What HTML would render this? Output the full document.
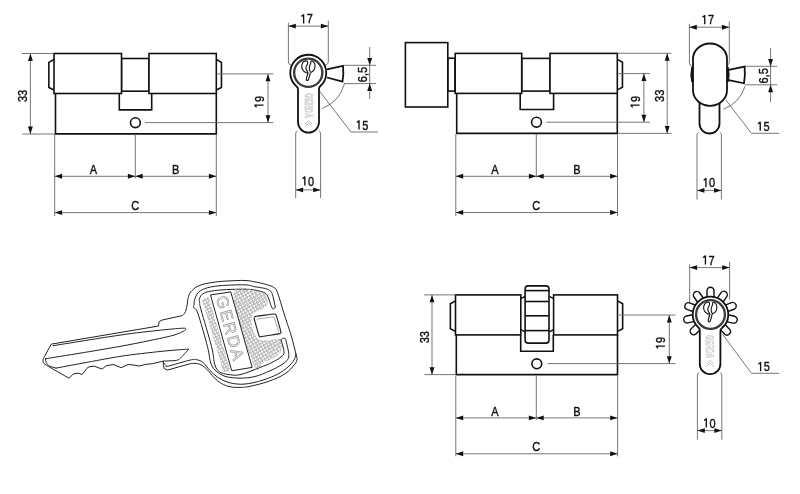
<!DOCTYPE html>
<html><head><meta charset="utf-8"><style>
html,body{margin:0;padding:0;background:#fff;}
svg{display:block;font-family:"Liberation Sans",sans-serif;will-change:transform;}
</style></head><body>
<svg width="800" height="494" viewBox="0 0 800 494">
<defs><pattern id="dots" width="4.4" height="4.4" patternUnits="userSpaceOnUse" patternTransform="rotate(15)"><circle cx="1.1" cy="1.1" r="1.0" fill="#fff" stroke="#7a7a7a" stroke-width="0.75"/><circle cx="3.3" cy="3.3" r="1.0" fill="#fff" stroke="#7a7a7a" stroke-width="0.75"/></pattern></defs>
<rect width="800" height="494" fill="#fff"/>
<path d="M55.50,93.50 L55.50,133.90 L216.30,133.90 L216.30,93.50" stroke="#111" stroke-width="1.6" fill="none" />
<rect x="121.50" y="58.50" width="27.50" height="32.70" rx="0" fill="none" stroke="#111" stroke-width="1.6"/>
<path d="M119.30,93.50 L119.30,109.90 L151.70,109.90 L151.70,93.50" stroke="#111" stroke-width="1.6" fill="none" />
<rect x="54.00" y="53.50" width="67.50" height="40.00" rx="0" fill="#fff" stroke="#111" stroke-width="1.6"/>
<rect x="149.00" y="53.50" width="67.30" height="40.00" rx="0" fill="#fff" stroke="#111" stroke-width="1.6"/>
<path d="M54.00,59.50 L48.85,62.40 L48.85,87.40 L54.00,90.00" stroke="#111" stroke-width="1.6" fill="none" />
<path d="M216.30,59.50 L221.45,62.40 L221.45,87.40 L216.30,90.00" stroke="#111" stroke-width="1.6" fill="none" />
<circle cx="135.40" cy="122.70" r="4.90" stroke="#111" stroke-width="1.6" fill="none"/>
<line x1="22.00" y1="53.50" x2="54.00" y2="53.50" stroke="#666" stroke-width="0.9"/>
<line x1="22.50" y1="134.00" x2="55.00" y2="134.00" stroke="#666" stroke-width="0.9"/>
<line x1="30.40" y1="53.50" x2="30.40" y2="134.00" stroke="#666" stroke-width="0.9"/>
<path d="M30.40,53.50 L32.85,60.90 L27.95,60.90 Z" fill="#111"/>
<path d="M30.40,134.00 L27.95,126.60 L32.85,126.60 Z" fill="#111"/>
<text x="0" y="0" transform="translate(27.20,96.00) rotate(-90) scale(0.88,1)" font-size="12.5" text-anchor="middle" fill="#111" stroke="#111" stroke-width="0.4" stroke-linejoin="round">33</text>
<line x1="217.50" y1="73.90" x2="273.30" y2="73.90" stroke="#666" stroke-width="0.9"/>
<line x1="145.00" y1="122.60" x2="273.30" y2="122.60" stroke="#666" stroke-width="0.9"/>
<line x1="268.00" y1="73.90" x2="268.00" y2="122.60" stroke="#666" stroke-width="0.9"/>
<path d="M268.00,73.90 L270.45,81.30 L265.55,81.30 Z" fill="#111"/>
<path d="M268.00,122.60 L265.55,115.20 L270.45,115.20 Z" fill="#111"/>
<g transform="translate(263.50,101.90) rotate(-90)"><path d="M-5.42,-7.0 L-3.17,-8.7 L-3.17,0" fill="none" stroke="#111" stroke-width="1.35" stroke-linejoin="round"/><text x="0" y="0" transform="translate(0.00,0) scale(0.88,1)" font-size="12.5" fill="#111" stroke="#111" stroke-width="0.4" stroke-linejoin="round">9</text></g>
<line x1="54.70" y1="134.00" x2="54.70" y2="216.00" stroke="#666" stroke-width="0.9"/>
<line x1="216.30" y1="134.00" x2="216.30" y2="216.00" stroke="#666" stroke-width="0.9"/>
<line x1="135.30" y1="134.00" x2="135.30" y2="178.60" stroke="#666" stroke-width="0.9"/>
<line x1="54.70" y1="176.30" x2="135.30" y2="176.30" stroke="#666" stroke-width="0.9"/>
<path d="M54.70,176.30 L62.10,173.85 L62.10,178.75 Z" fill="#111"/>
<path d="M135.30,176.30 L127.90,178.75 L127.90,173.85 Z" fill="#111"/>
<line x1="135.30" y1="176.30" x2="216.30" y2="176.30" stroke="#666" stroke-width="0.9"/>
<path d="M135.30,176.30 L142.70,173.85 L142.70,178.75 Z" fill="#111"/>
<path d="M216.30,176.30 L208.90,178.75 L208.90,173.85 Z" fill="#111"/>
<line x1="54.70" y1="212.60" x2="216.30" y2="212.60" stroke="#666" stroke-width="0.9"/>
<path d="M54.70,212.60 L62.10,210.15 L62.10,215.05 Z" fill="#111"/>
<path d="M216.30,212.60 L208.90,215.05 L208.90,210.15 Z" fill="#111"/>
<text x="0" y="0" transform="translate(93.50,173.70) scale(0.88,1)" font-size="12.5" text-anchor="middle" fill="#111" stroke="#111" stroke-width="0.4" stroke-linejoin="round">A</text>
<text x="0" y="0" transform="translate(175.70,173.70) scale(0.88,1)" font-size="12.5" text-anchor="middle" fill="#111" stroke="#111" stroke-width="0.4" stroke-linejoin="round">B</text>
<text x="0" y="0" transform="translate(135.30,209.50) scale(0.88,1)" font-size="12.5" text-anchor="middle" fill="#111" stroke="#111" stroke-width="0.4" stroke-linejoin="round">C</text>
<rect x="447.80" y="58.20" width="7.20" height="32.90" rx="0" fill="#fff" stroke="#111" stroke-width="1.6"/>
<rect x="405.40" y="42.60" width="42.40" height="64.40" rx="0" fill="#fff" stroke="#111" stroke-width="1.6"/>
<path d="M456.70,93.40 L456.70,133.40 L617.30,133.40 L617.30,93.40" stroke="#111" stroke-width="1.6" fill="none" />
<rect x="521.70" y="58.40" width="28.30" height="32.70" rx="0" fill="none" stroke="#111" stroke-width="1.6"/>
<path d="M520.20,93.40 L520.20,109.50 L553.60,109.50 L553.60,93.40" stroke="#111" stroke-width="1.6" fill="none" />
<rect x="455.20" y="53.40" width="66.50" height="40.00" rx="0" fill="#fff" stroke="#111" stroke-width="1.6"/>
<rect x="550.00" y="53.40" width="67.30" height="40.00" rx="0" fill="#fff" stroke="#111" stroke-width="1.6"/>
<path d="M617.30,59.40 L622.45,62.30 L622.45,87.30 L617.30,89.90" stroke="#111" stroke-width="1.6" fill="none" />
<circle cx="536.50" cy="122.20" r="4.90" stroke="#111" stroke-width="1.6" fill="none"/>
<line x1="617.30" y1="53.30" x2="671.50" y2="53.30" stroke="#666" stroke-width="0.9"/>
<line x1="617.30" y1="133.40" x2="671.50" y2="133.40" stroke="#666" stroke-width="0.9"/>
<line x1="618.50" y1="73.60" x2="650.00" y2="73.60" stroke="#666" stroke-width="0.9"/>
<line x1="546.50" y1="122.20" x2="650.00" y2="122.20" stroke="#666" stroke-width="0.9"/>
<line x1="643.90" y1="73.60" x2="643.90" y2="122.20" stroke="#666" stroke-width="0.9"/>
<path d="M643.90,73.60 L646.35,81.00 L641.45,81.00 Z" fill="#111"/>
<path d="M643.90,122.20 L641.45,114.80 L646.35,114.80 Z" fill="#111"/>
<g transform="translate(639.60,101.90) rotate(-90)"><path d="M-5.42,-7.0 L-3.17,-8.7 L-3.17,0" fill="none" stroke="#111" stroke-width="1.35" stroke-linejoin="round"/><text x="0" y="0" transform="translate(0.00,0) scale(0.88,1)" font-size="12.5" fill="#111" stroke="#111" stroke-width="0.4" stroke-linejoin="round">9</text></g>
<line x1="667.20" y1="53.30" x2="667.20" y2="133.40" stroke="#666" stroke-width="0.9"/>
<path d="M667.20,53.30 L669.65,60.70 L664.75,60.70 Z" fill="#111"/>
<path d="M667.20,133.40 L664.75,126.00 L669.65,126.00 Z" fill="#111"/>
<text x="0" y="0" transform="translate(663.50,95.80) rotate(-90) scale(0.88,1)" font-size="12.5" text-anchor="middle" fill="#111" stroke="#111" stroke-width="0.4" stroke-linejoin="round">33</text>
<line x1="455.80" y1="134.00" x2="455.80" y2="216.00" stroke="#666" stroke-width="0.9"/>
<line x1="617.50" y1="134.00" x2="617.50" y2="216.00" stroke="#666" stroke-width="0.9"/>
<line x1="536.30" y1="134.00" x2="536.30" y2="177.50" stroke="#666" stroke-width="0.9"/>
<line x1="455.80" y1="176.30" x2="536.30" y2="176.30" stroke="#666" stroke-width="0.9"/>
<path d="M455.80,176.30 L463.20,173.85 L463.20,178.75 Z" fill="#111"/>
<path d="M536.30,176.30 L528.90,178.75 L528.90,173.85 Z" fill="#111"/>
<line x1="536.30" y1="176.30" x2="617.50" y2="176.30" stroke="#666" stroke-width="0.9"/>
<path d="M536.30,176.30 L543.70,173.85 L543.70,178.75 Z" fill="#111"/>
<path d="M617.50,176.30 L610.10,178.75 L610.10,173.85 Z" fill="#111"/>
<line x1="455.80" y1="212.50" x2="617.50" y2="212.50" stroke="#666" stroke-width="0.9"/>
<path d="M455.80,212.50 L463.20,210.05 L463.20,214.95 Z" fill="#111"/>
<path d="M617.50,212.50 L610.10,214.95 L610.10,210.05 Z" fill="#111"/>
<text x="0" y="0" transform="translate(495.00,173.80) scale(0.88,1)" font-size="12.5" text-anchor="middle" fill="#111" stroke="#111" stroke-width="0.4" stroke-linejoin="round">A</text>
<text x="0" y="0" transform="translate(577.00,173.80) scale(0.88,1)" font-size="12.5" text-anchor="middle" fill="#111" stroke="#111" stroke-width="0.4" stroke-linejoin="round">B</text>
<text x="0" y="0" transform="translate(536.30,209.50) scale(0.88,1)" font-size="12.5" text-anchor="middle" fill="#111" stroke="#111" stroke-width="0.4" stroke-linejoin="round">C</text>
<path d="M456.30,334.90 L456.30,374.60 L617.50,374.60 L617.50,334.90" stroke="#111" stroke-width="1.6" fill="none" />
<path d="M520.70,334.90 L520.70,351.20 L553.30,351.20 L553.30,334.90" stroke="#111" stroke-width="1.6" fill="none" />
<rect x="455.50" y="294.90" width="65.30" height="40.00" rx="0" fill="#fff" stroke="#111" stroke-width="1.6"/>
<rect x="553.60" y="294.90" width="63.90" height="40.00" rx="0" fill="#fff" stroke="#111" stroke-width="1.6"/>
<path d="M455.50,300.90 L450.35,303.80 L450.35,328.80 L455.50,331.40" stroke="#111" stroke-width="1.6" fill="none" />
<path d="M617.50,300.90 L622.65,303.80 L622.65,328.80 L617.50,331.40" stroke="#111" stroke-width="1.6" fill="none" />
<circle cx="536.80" cy="363.80" r="4.90" stroke="#111" stroke-width="1.6" fill="none"/>
<path d="M520.8,298.6 L525.1,296.4 M520.8,329.6 L525.1,331.8" stroke="#111" stroke-width="1.4" fill="none" />
<path d="M553.6,298.6 L549.3,296.4 M553.6,329.6 L549.3,331.8" stroke="#111" stroke-width="1.4" fill="none" />
<rect x="525.10" y="285.90" width="23.90" height="57.20" rx="3.2" fill="#fff" stroke="#111" stroke-width="1.6"/>
<line x1="525.10" y1="290.60" x2="549.00" y2="290.60" stroke="#111" stroke-width="1.6"/>
<line x1="525.10" y1="301.50" x2="549.00" y2="301.50" stroke="#111" stroke-width="1.6"/>
<line x1="525.10" y1="315.80" x2="549.00" y2="315.80" stroke="#111" stroke-width="1.6"/>
<line x1="525.10" y1="330.60" x2="549.00" y2="330.60" stroke="#111" stroke-width="1.6"/>
<line x1="424.10" y1="294.90" x2="455.50" y2="294.90" stroke="#666" stroke-width="0.9"/>
<line x1="424.40" y1="374.60" x2="456.30" y2="374.60" stroke="#666" stroke-width="0.9"/>
<line x1="432.00" y1="294.90" x2="432.00" y2="374.60" stroke="#666" stroke-width="0.9"/>
<path d="M432.00,294.90 L434.45,302.30 L429.55,302.30 Z" fill="#111"/>
<path d="M432.00,374.60 L429.55,367.20 L434.45,367.20 Z" fill="#111"/>
<text x="0" y="0" transform="translate(428.90,337.20) rotate(-90) scale(0.88,1)" font-size="12.5" text-anchor="middle" fill="#111" stroke="#111" stroke-width="0.4" stroke-linejoin="round">33</text>
<line x1="618.70" y1="315.00" x2="675.50" y2="315.00" stroke="#666" stroke-width="0.9"/>
<line x1="547.40" y1="363.60" x2="675.50" y2="363.60" stroke="#666" stroke-width="0.9"/>
<line x1="669.30" y1="315.00" x2="669.30" y2="363.60" stroke="#666" stroke-width="0.9"/>
<path d="M669.30,315.00 L671.75,322.40 L666.85,322.40 Z" fill="#111"/>
<path d="M669.30,363.60 L666.85,356.20 L671.75,356.20 Z" fill="#111"/>
<g transform="translate(665.00,343.00) rotate(-90)"><path d="M-5.42,-7.0 L-3.17,-8.7 L-3.17,0" fill="none" stroke="#111" stroke-width="1.35" stroke-linejoin="round"/><text x="0" y="0" transform="translate(0.00,0) scale(0.88,1)" font-size="12.5" fill="#111" stroke="#111" stroke-width="0.4" stroke-linejoin="round">9</text></g>
<line x1="455.80" y1="376.00" x2="455.80" y2="456.30" stroke="#666" stroke-width="0.9"/>
<line x1="617.60" y1="376.00" x2="617.60" y2="456.30" stroke="#666" stroke-width="0.9"/>
<line x1="536.30" y1="376.00" x2="536.30" y2="420.00" stroke="#666" stroke-width="0.9"/>
<line x1="455.80" y1="417.90" x2="536.30" y2="417.90" stroke="#666" stroke-width="0.9"/>
<path d="M455.80,417.90 L463.20,415.45 L463.20,420.35 Z" fill="#111"/>
<path d="M536.30,417.90 L528.90,420.35 L528.90,415.45 Z" fill="#111"/>
<line x1="536.30" y1="417.90" x2="617.60" y2="417.90" stroke="#666" stroke-width="0.9"/>
<path d="M536.30,417.90 L543.70,415.45 L543.70,420.35 Z" fill="#111"/>
<path d="M617.60,417.90 L610.20,420.35 L610.20,415.45 Z" fill="#111"/>
<line x1="455.80" y1="453.80" x2="617.60" y2="453.80" stroke="#666" stroke-width="0.9"/>
<path d="M455.80,453.80 L463.20,451.35 L463.20,456.25 Z" fill="#111"/>
<path d="M617.60,453.80 L610.20,456.25 L610.20,451.35 Z" fill="#111"/>
<text x="0" y="0" transform="translate(495.00,415.60) scale(0.88,1)" font-size="12.5" text-anchor="middle" fill="#111" stroke="#111" stroke-width="0.4" stroke-linejoin="round">A</text>
<text x="0" y="0" transform="translate(577.00,415.60) scale(0.88,1)" font-size="12.5" text-anchor="middle" fill="#111" stroke="#111" stroke-width="0.4" stroke-linejoin="round">B</text>
<text x="0" y="0" transform="translate(536.30,451.00) scale(0.88,1)" font-size="12.5" text-anchor="middle" fill="#111" stroke="#111" stroke-width="0.4" stroke-linejoin="round">C</text>
<path d="M288.40,22.60 L288.40,62.00 Q288.40,64.50 291.80,65.50" stroke="#666" stroke-width="0.9" fill="none" />
<path d="M328.30,20.70 L328.30,62.00 Q328.30,64.50 324.80,65.50" stroke="#666" stroke-width="0.9" fill="none" />
<line x1="288.40" y1="26.10" x2="328.30" y2="26.10" stroke="#666" stroke-width="0.9"/>
<path d="M288.40,26.10 L295.80,23.65 L295.80,28.55 Z" fill="#111"/>
<path d="M328.30,26.10 L320.90,28.55 L320.90,23.65 Z" fill="#111"/>
<g transform="translate(306.80,23.40)"><path d="M-5.42,-7.0 L-3.17,-8.7 L-3.17,0" fill="none" stroke="#111" stroke-width="1.35" stroke-linejoin="round"/><text x="0" y="0" transform="translate(0.00,0) scale(0.88,1)" font-size="12.5" fill="#111" stroke="#111" stroke-width="0.4" stroke-linejoin="round">7</text></g>
<path d="M297.30,131.00 Q295.70,131.60 295.70,133.40 L295.70,198.00" stroke="#666" stroke-width="0.9" fill="none" />
<path d="M319.00,131.00 Q320.60,131.60 320.60,133.40 L320.60,198.00" stroke="#666" stroke-width="0.9" fill="none" />
<line x1="295.70" y1="189.90" x2="320.60" y2="189.90" stroke="#666" stroke-width="0.9"/>
<path d="M295.70,189.90 L303.10,187.45 L303.10,192.35 Z" fill="#111"/>
<path d="M320.60,189.90 L313.20,192.35 L313.20,187.45 Z" fill="#111"/>
<g transform="translate(308.00,185.60)"><path d="M-5.42,-7.0 L-3.17,-8.7 L-3.17,0" fill="none" stroke="#111" stroke-width="1.35" stroke-linejoin="round"/><text x="0" y="0" transform="translate(0.00,0) scale(0.88,1)" font-size="12.5" fill="#111" stroke="#111" stroke-width="0.4" stroke-linejoin="round">0</text></g>
<line x1="344.00" y1="65.30" x2="376.00" y2="65.30" stroke="#666" stroke-width="0.9"/>
<line x1="344.00" y1="83.60" x2="376.00" y2="83.60" stroke="#666" stroke-width="0.9"/>
<line x1="369.70" y1="47.00" x2="369.70" y2="99.00" stroke="#666" stroke-width="0.9"/>
<path d="M369.70,65.30 L367.25,57.90 L372.15,57.90 Z" fill="#111"/>
<path d="M369.70,83.60 L372.15,91.00 L367.25,91.00 Z" fill="#111"/>
<text x="0" y="0" transform="translate(366.80,74.50) rotate(-90) scale(0.88,1)" font-size="12.5" text-anchor="middle" fill="#111" stroke="#111" stroke-width="0.4" stroke-linejoin="round">6,5</text>
<path d="M344.5,83.6 A37.3,37.3 0 0 1 322,108.6" stroke="#666" stroke-width="0.9" fill="none" />
<line x1="319.50" y1="91.00" x2="350.90" y2="132.00" stroke="#666" stroke-width="0.9"/>
<line x1="350.90" y1="132.00" x2="377.90" y2="132.00" stroke="#666" stroke-width="0.9"/>
<g transform="translate(362.20,129.50)"><path d="M-5.42,-7.0 L-3.17,-8.7 L-3.17,0" fill="none" stroke="#111" stroke-width="1.35" stroke-linejoin="round"/><text x="0" y="0" transform="translate(0.00,0) scale(0.88,1)" font-size="12.5" fill="#111" stroke="#111" stroke-width="0.4" stroke-linejoin="round">5</text></g>
<path d="M327.00,69.30 L343.00,65.90 Q343.90,73.75 342.50,81.60 L327.00,77.50" stroke="#111" stroke-width="1.8" fill="#fff" />
<path d="M298.00,122.10 L298.00,89.15 Q298.00,87.55 296.60,86.47 A18.00,18.00 0 1 1 320.40,86.03 Q319.00,87.19 319.00,88.79 L319.00,122.10 A10.50,10.50 0 0 1 298.00,122.10 Z" stroke="#111" stroke-width="1.8" fill="#fff" />
<text x="0" y="0" transform="translate(304.60,93.30) rotate(90)" font-size="10.5" font-weight="bold" fill="#fff" stroke="#bbb" stroke-width="0.6" textLength="24.5" lengthAdjust="spacingAndGlyphs">GERDA</text>
<path d="M305.00,124.00 L308.50,120.50 L312.00,124.00 M305.00,126.50 L308.50,123.00 L312.00,126.50" stroke="#aaa" stroke-width="0.8" fill="none" />
<circle cx="308.25" cy="72.75" r="14.10" stroke="#3a3a3a" stroke-width="2.3" fill="none"/>
<path d="M308.20,72.60 C307.96,73.40 306.61,77.59 306.40,78.60 C306.19,79.61 306.44,79.96 306.60,80.20 C306.76,80.44 307.33,80.53 307.60,80.40 C307.87,80.27 308.23,80.24 308.60,79.20 C308.97,78.16 310.16,73.48 310.40,72.60" stroke="#1a1a1a" stroke-width="1.15" fill="#fff" />
<path d="M307.40,61.30 C307.08,60.89 306.13,60.77 305.50,60.90 C304.87,61.03 303.75,61.51 303.20,62.20 C302.64,62.89 301.91,64.41 301.80,65.50 C301.69,66.59 302.04,68.53 302.50,69.50 C302.96,70.47 304.13,71.49 304.90,72.00 C305.66,72.51 307.25,73.02 307.60,72.90 C307.95,72.78 307.44,71.81 307.20,71.20 C306.96,70.59 306.13,69.55 306.00,68.80 C305.87,68.05 306.06,66.98 306.30,66.20 C306.54,65.42 307.44,64.34 307.60,63.60 C307.77,62.87 307.71,61.70 307.40,61.30 Z" stroke="#1a1a1a" stroke-width="1.15" fill="#fff" />
<path d="M310.80,61.30 C311.06,61.03 311.96,60.91 312.50,61.20 C313.04,61.49 314.02,62.45 314.40,63.20 C314.77,63.95 315.03,65.24 315.00,66.20 C314.97,67.16 314.62,68.79 314.20,69.60 C313.78,70.41 312.71,71.19 312.20,71.60 C311.69,72.00 311.18,72.45 310.80,72.30 C310.43,72.15 309.93,71.24 309.70,70.60 C309.47,69.95 309.27,68.81 309.30,68.00 C309.33,67.19 309.67,65.95 309.90,65.20 C310.12,64.45 310.67,63.59 310.80,63.00 C310.94,62.41 310.55,61.57 310.80,61.30 Z" stroke="#1a1a1a" stroke-width="1.15" fill="#fff" />
<path d="M689.40,23.80 L689.40,63.00 Q689.40,65.50 692.30,66.50" stroke="#666" stroke-width="0.9" fill="none" />
<path d="M729.30,21.30 L729.30,61.90 Q729.30,64.40 727.40,65.40" stroke="#666" stroke-width="0.9" fill="none" />
<line x1="689.40" y1="27.20" x2="729.30" y2="27.20" stroke="#666" stroke-width="0.9"/>
<path d="M689.40,27.20 L696.80,24.75 L696.80,29.65 Z" fill="#111"/>
<path d="M729.30,27.20 L721.90,29.65 L721.90,24.75 Z" fill="#111"/>
<g transform="translate(707.90,24.30)"><path d="M-5.42,-7.0 L-3.17,-8.7 L-3.17,0" fill="none" stroke="#111" stroke-width="1.35" stroke-linejoin="round"/><text x="0" y="0" transform="translate(0.00,0) scale(0.88,1)" font-size="12.5" fill="#111" stroke="#111" stroke-width="0.4" stroke-linejoin="round">7</text></g>
<path d="M698.60,132.40 Q697.00,133.00 697.00,134.80 L697.00,199.60" stroke="#666" stroke-width="0.9" fill="none" />
<path d="M719.80,132.40 Q721.40,133.00 721.40,134.80 L721.40,199.60" stroke="#666" stroke-width="0.9" fill="none" />
<line x1="697.00" y1="190.40" x2="721.40" y2="190.40" stroke="#666" stroke-width="0.9"/>
<path d="M697.00,190.40 L704.40,187.95 L704.40,192.85 Z" fill="#111"/>
<path d="M721.40,190.40 L714.00,192.85 L714.00,187.95 Z" fill="#111"/>
<g transform="translate(709.10,187.20)"><path d="M-5.42,-7.0 L-3.17,-8.7 L-3.17,0" fill="none" stroke="#111" stroke-width="1.35" stroke-linejoin="round"/><text x="0" y="0" transform="translate(0.00,0) scale(0.88,1)" font-size="12.5" fill="#111" stroke="#111" stroke-width="0.4" stroke-linejoin="round">0</text></g>
<line x1="745.00" y1="66.30" x2="777.20" y2="66.30" stroke="#666" stroke-width="0.9"/>
<line x1="745.00" y1="84.80" x2="777.20" y2="84.80" stroke="#666" stroke-width="0.9"/>
<line x1="770.60" y1="48.20" x2="770.60" y2="102.00" stroke="#666" stroke-width="0.9"/>
<path d="M770.60,66.30 L768.15,58.90 L773.05,58.90 Z" fill="#111"/>
<path d="M770.60,84.80 L773.05,92.20 L768.15,92.20 Z" fill="#111"/>
<text x="0" y="0" transform="translate(767.80,75.80) rotate(-90) scale(0.88,1)" font-size="12.5" text-anchor="middle" fill="#111" stroke="#111" stroke-width="0.4" stroke-linejoin="round">6,5</text>
<path d="M745,86.4 A37,37 0 0 1 723.3,109.4" stroke="#666" stroke-width="0.9" fill="none" />
<line x1="725.80" y1="100.00" x2="751.50" y2="133.30" stroke="#666" stroke-width="0.9"/>
<line x1="751.50" y1="133.30" x2="779.10" y2="133.30" stroke="#666" stroke-width="0.9"/>
<g transform="translate(763.40,130.80)"><path d="M-5.42,-7.0 L-3.17,-8.7 L-3.17,0" fill="none" stroke="#111" stroke-width="1.35" stroke-linejoin="round"/><text x="0" y="0" transform="translate(0.00,0) scale(0.88,1)" font-size="12.5" fill="#111" stroke="#111" stroke-width="0.4" stroke-linejoin="round">5</text></g>
<path d="M699.50,100.00 L699.50,123.50 A10.00,10.00 0 0 0 719.50,123.50 L719.50,100.00" stroke="#111" stroke-width="1.8" fill="#fff" />
<path d="M727.50,70.10 L744.60,66.60 Q745.50,74.95 744.00,83.30 L727.50,79.90" stroke="#111" stroke-width="1.8" fill="#fff" />
<rect x="693" y="43.5" width="34" height="62.3" rx="17" ry="15.5" fill="#fff" stroke="#111" stroke-width="1.8"/>
<path d="M692.4,67 Q690.6,74.5 692.4,82" stroke="#111" stroke-width="2.2" fill="none" />
<path d="M727.6,67 Q729.4,74.5 727.6,82" stroke="#111" stroke-width="2.2" fill="none" />
<path d="M689.70,264.40 L689.70,301.00 Q689.70,303.50 689.70,304.50" stroke="#666" stroke-width="0.9" fill="none" />
<path d="M729.60,261.90 L729.60,296.00 Q729.60,298.50 729.60,299.50" stroke="#666" stroke-width="0.9" fill="none" />
<line x1="689.70" y1="267.60" x2="729.60" y2="267.60" stroke="#666" stroke-width="0.9"/>
<path d="M689.70,267.60 L697.10,265.15 L697.10,270.05 Z" fill="#111"/>
<path d="M729.60,267.60 L722.20,270.05 L722.20,265.15 Z" fill="#111"/>
<g transform="translate(708.60,264.60)"><path d="M-5.42,-7.0 L-3.17,-8.7 L-3.17,0" fill="none" stroke="#111" stroke-width="1.35" stroke-linejoin="round"/><text x="0" y="0" transform="translate(0.00,0) scale(0.88,1)" font-size="12.5" fill="#111" stroke="#111" stroke-width="0.4" stroke-linejoin="round">7</text></g>
<path d="M699.00,372.70 Q697.40,373.30 697.40,375.10 L697.40,439.60" stroke="#666" stroke-width="0.9" fill="none" />
<path d="M720.20,372.70 Q721.80,373.30 721.80,375.10 L721.80,439.60" stroke="#666" stroke-width="0.9" fill="none" />
<line x1="697.40" y1="430.60" x2="721.80" y2="430.60" stroke="#666" stroke-width="0.9"/>
<path d="M697.40,430.60 L704.80,428.15 L704.80,433.05 Z" fill="#111"/>
<path d="M721.80,430.60 L714.40,433.05 L714.40,428.15 Z" fill="#111"/>
<g transform="translate(709.50,427.50)"><path d="M-5.42,-7.0 L-3.17,-8.7 L-3.17,0" fill="none" stroke="#111" stroke-width="1.35" stroke-linejoin="round"/><text x="0" y="0" transform="translate(0.00,0) scale(0.88,1)" font-size="12.5" fill="#111" stroke="#111" stroke-width="0.4" stroke-linejoin="round">0</text></g>
<line x1="722.70" y1="334.40" x2="751.50" y2="373.30" stroke="#666" stroke-width="0.9"/>
<line x1="751.50" y1="373.30" x2="779.10" y2="373.30" stroke="#666" stroke-width="0.9"/>
<g transform="translate(763.80,371.20)"><path d="M-5.42,-7.0 L-3.17,-8.7 L-3.17,0" fill="none" stroke="#111" stroke-width="1.35" stroke-linejoin="round"/><text x="0" y="0" transform="translate(0.00,0) scale(0.88,1)" font-size="12.5" fill="#111" stroke="#111" stroke-width="0.4" stroke-linejoin="round">5</text></g>
<path d="M714.00,299.50 L714.00,290.70 A3.5,3.5 0 0 0 707.00,290.70 L707.00,299.50 Z" stroke="#111" stroke-width="1.4" fill="#fff" />
<path d="M721.79,304.02 L726.71,296.73 A3.5,3.5 0 0 0 720.91,292.81 L715.99,300.11 Z" stroke="#111" stroke-width="1.4" fill="#fff" />
<path d="M725.76,312.39 L733.97,309.24 A3.5,3.5 0 0 0 731.46,302.70 L723.25,305.86 Z" stroke="#111" stroke-width="1.4" fill="#fff" />
<path d="M724.39,321.16 L732.98,323.07 A3.5,3.5 0 0 0 734.49,316.23 L725.90,314.33 Z" stroke="#111" stroke-width="1.4" fill="#fff" />
<path d="M718.40,327.72 L724.52,334.05 A3.5,3.5 0 0 0 729.55,329.19 L723.44,322.86 Z" stroke="#111" stroke-width="1.4" fill="#fff" />
<path d="M704.76,300.21 L699.72,293.00 A3.5,3.5 0 0 0 693.98,297.01 L699.03,304.22 Z" stroke="#111" stroke-width="1.4" fill="#fff" />
<path d="M697.68,305.97 L689.43,302.89 A3.5,3.5 0 0 0 686.98,309.44 L695.22,312.53 Z" stroke="#111" stroke-width="1.4" fill="#fff" />
<path d="M695.10,314.20 L686.49,316.02 A3.5,3.5 0 0 0 687.95,322.87 L696.56,321.04 Z" stroke="#111" stroke-width="1.4" fill="#fff" />
<path d="M697.42,322.63 L691.20,328.85 A3.5,3.5 0 0 0 696.15,333.80 L702.37,327.58 Z" stroke="#111" stroke-width="1.4" fill="#fff" />
<path d="M699.80,363.90 L699.80,330.32 Q699.80,328.72 698.40,327.55 A17.80,17.80 0 1 1 721.80,328.25 Q720.40,329.29 720.40,330.89 L720.40,363.90 A10.30,10.30 0 0 1 699.80,363.90 Z" stroke="#111" stroke-width="1.8" fill="#fff" />
<text x="0" y="0" transform="translate(706.20,335.00) rotate(90)" font-size="10.5" font-weight="bold" fill="#fff" stroke="#bbb" stroke-width="0.6" textLength="23.0" lengthAdjust="spacingAndGlyphs">GERDA</text>
<path d="M706.60,364.00 L710.10,360.50 L713.60,364.00 M706.60,366.50 L710.10,363.00 L713.60,366.50" stroke="#aaa" stroke-width="0.8" fill="none" />
<circle cx="710.50" cy="314.50" r="14.40" stroke="#3a3a3a" stroke-width="2.3" fill="none"/>
<path d="M710.05,313.95 C709.81,314.75 708.46,318.94 708.25,319.95 C708.04,320.96 708.29,321.31 708.45,321.55 C708.61,321.79 709.18,321.88 709.45,321.75 C709.72,321.62 710.08,321.59 710.45,320.55 C710.82,319.51 712.01,314.83 712.25,313.95" stroke="#1a1a1a" stroke-width="1.15" fill="#fff" />
<path d="M709.25,302.65 C708.93,302.25 707.98,302.12 707.35,302.25 C706.72,302.38 705.60,302.86 705.05,303.55 C704.50,304.24 703.76,305.75 703.65,306.85 C703.55,307.95 703.88,309.88 704.35,310.85 C704.82,311.83 705.99,312.84 706.75,313.35 C707.51,313.86 709.11,314.37 709.45,314.25 C709.80,314.13 709.29,313.17 709.05,312.55 C708.81,311.94 707.99,310.90 707.85,310.15 C707.72,309.40 707.91,308.33 708.15,307.55 C708.39,306.77 709.29,305.69 709.45,304.95 C709.62,304.22 709.57,303.06 709.25,302.65 Z" stroke="#1a1a1a" stroke-width="1.15" fill="#fff" />
<path d="M712.65,302.65 C712.91,302.38 713.81,302.26 714.35,302.55 C714.89,302.84 715.88,303.80 716.25,304.55 C716.62,305.30 716.88,306.59 716.85,307.55 C716.82,308.51 716.47,310.14 716.05,310.95 C715.63,311.76 714.56,312.55 714.05,312.95 C713.54,313.36 713.03,313.80 712.65,313.65 C712.28,313.50 711.77,312.60 711.55,311.95 C711.32,311.31 711.12,310.16 711.15,309.35 C711.18,308.54 711.52,307.30 711.75,306.55 C711.98,305.80 712.52,304.94 712.65,304.35 C712.79,303.77 712.40,302.92 712.65,302.65 Z" stroke="#1a1a1a" stroke-width="1.15" fill="#fff" />
<path d="M51.60,344.10 L158.30,326.05 L159.30,321.60 L162.30,320.00 L182.30,315.60 L182.30,315.60 C182.96,314.78 184.58,314.02 185.60,311.50 C186.62,308.98 186.82,306.00 187.40,303.00 C187.98,300.00 187.58,298.98 188.50,296.50 C189.42,294.02 189.70,292.84 192.00,290.60 C194.30,288.36 195.40,287.00 200.00,285.30 C204.60,283.60 209.00,282.98 215.00,282.10 C221.00,281.22 224.00,281.22 230.00,280.90 C236.00,280.58 240.00,280.30 245.00,280.50 C250.00,280.70 250.75,281.10 255.00,281.90 C259.25,282.70 262.50,283.38 266.25,284.50 C270.00,285.62 271.50,285.85 273.75,287.50 C276.00,289.15 275.25,286.90 277.50,292.75 C279.75,298.60 282.30,308.30 285.00,316.75 C287.70,325.20 288.75,327.30 291.00,335.00 C293.25,342.70 295.07,350.35 296.25,355.25 C297.43,360.15 297.25,357.65 296.90,359.50 C296.55,361.35 296.88,361.65 294.50,364.50 C292.12,367.35 290.15,370.40 285.00,373.75 C279.85,377.10 275.75,378.74 268.75,381.25 C261.75,383.76 255.75,385.07 250.00,386.30 C244.25,387.53 244.00,387.32 240.00,387.40 C236.00,387.48 233.70,387.48 230.00,386.70 C226.30,385.92 224.70,385.34 221.50,383.50 C218.30,381.66 216.80,380.20 214.00,377.50 C211.20,374.80 210.10,372.54 207.50,370.00 C204.90,367.46 203.50,366.12 201.00,364.80 C198.50,363.48 197.14,363.62 195.00,363.40 C192.86,363.18 191.24,363.64 190.30,363.70 L190.30,363.70 L167.30,370.10 L164.20,368.50 L163.40,365.50 L163.30,361.10 L163.30,361.10 L152.20,363.70 L145.20,364.50 L139.20,366.10 L134.20,365.10 L128.20,364.50 L121.20,367.70 L113.20,364.50 L106.20,365.70 L102.10,369.10 L94.10,366.10 L88.10,367.10 L82.10,374.50 L78.10,373.10 L73.10,374.10 L69.10,378.20 L69.10,378.20 C65.33,376.05 50.82,368.00 46.50,365.30 C42.18,362.60 43.72,363.13 43.20,362.00 C42.68,360.87 43.18,359.42 43.40,358.50 C43.62,357.58 44.32,356.83 44.50,356.50 Z" stroke="#222" stroke-width="1.0" fill="#fff" stroke-linejoin="round" stroke-linecap="round"/>
<path d="M163.90,363.10 C164.25,363.52 165.27,365.10 166.00,365.60 C166.73,366.10 164.30,367.02 168.30,366.10 C172.30,365.18 185.22,361.15 190.00,360.10 C194.78,359.05 194.83,359.40 197.00,359.80 C199.17,360.20 200.83,360.72 203.00,362.50 C205.17,364.28 207.50,368.00 210.00,370.50 C212.50,373.00 215.00,375.53 218.00,377.50 C221.00,379.47 224.33,381.18 228.00,382.30 C231.67,383.42 236.00,384.08 240.00,384.20 C244.00,384.32 247.83,383.80 252.00,383.00 C256.17,382.20 260.67,380.90 265.00,379.40 C269.33,377.90 274.17,376.07 278.00,374.00 C281.83,371.93 285.33,369.33 288.00,367.00 C290.67,364.67 292.67,362.17 294.00,360.00 C295.33,357.83 295.67,355.00 296.00,354.00" stroke="#222" stroke-width="1.0" fill="none" stroke-linejoin="round" stroke-linecap="round"/>
<path d="M53.00,345.70 C63.05,344.11 104.25,337.40 120.00,335.10 C135.75,332.81 148.59,331.44 158.00,330.40 C167.41,329.36 178.59,328.41 182.70,328.20 C186.81,327.99 185.12,328.64 185.40,329.00 C185.69,329.36 186.31,329.69 184.60,330.60 C182.89,331.52 179.19,333.62 174.00,335.10 C168.81,336.59 158.10,338.81 150.00,340.50 C141.90,342.19 130.50,344.50 120.00,346.40 C109.50,348.30 91.17,351.35 80.00,353.20 C68.83,355.05 50.67,357.88 45.50,358.70" stroke="#222" stroke-width="1.0" fill="none" stroke-linejoin="round" stroke-linecap="round"/>
<path d="M45.50,358.70 C45.62,359.33 45.53,361.28 46.20,362.50 C46.87,363.72 47.87,365.07 49.50,366.00 C51.13,366.93 54.92,367.75 56.00,368.10" stroke="#222" stroke-width="1.0" fill="none" stroke-linejoin="round" stroke-linecap="round"/>
<path d="M56.00,368.10 C63.47,366.74 107.87,358.34 120.00,356.40 C132.13,354.46 152.15,352.34 160.00,351.50 C167.85,350.66 184.08,349.33 187.30,349.20 C190.52,349.07 188.63,349.17 187.60,350.40 C186.57,351.62 180.55,358.49 178.50,359.70 C176.45,360.91 171.77,360.64 170.00,360.80 C168.23,360.96 164.08,361.06 163.30,361.10" stroke="#222" stroke-width="1.0" fill="none" stroke-linejoin="round" stroke-linecap="round"/>
<path d="M275.25,307.00 C274.88,305.25 273.75,299.12 273.00,296.50 C272.25,293.88 272.00,292.57 270.75,291.25 C269.50,289.93 268.12,289.35 265.50,288.60 C262.88,287.85 258.42,287.37 255.00,286.75 C251.58,286.13 250.42,285.11 245.00,284.90 C239.58,284.69 228.75,285.02 222.50,285.50 C216.25,285.98 211.50,286.62 207.50,287.75 C203.50,288.88 200.65,290.25 198.50,292.25 C196.35,294.25 195.35,297.54 194.60,299.75 C193.85,301.96 194.20,304.19 194.00,305.50 C193.80,306.81 192.78,306.35 193.40,307.60 C194.03,308.85 195.40,306.48 197.75,313.00 C200.10,319.52 205.38,338.58 207.50,346.75 C209.62,354.92 209.25,358.12 210.50,362.00 C211.75,365.88 212.58,367.62 215.00,370.00 C217.42,372.38 220.83,374.95 225.00,376.30 C229.17,377.65 235.00,378.07 240.00,378.10 C245.00,378.13 250.00,377.72 255.00,376.50 C260.00,375.28 265.50,372.80 270.00,370.80 C274.50,368.80 279.07,366.38 282.00,364.50 C284.93,362.62 286.48,361.33 287.60,359.50 C288.73,357.67 289.08,356.83 288.75,353.50 C288.42,350.17 286.36,342.02 285.60,339.50 C284.84,336.98 284.72,338.55 284.20,338.40 C283.68,338.25 283.03,338.33 282.50,338.60 C281.97,338.87 281.25,339.77 281.00,340.00" stroke="#222" stroke-width="1.0" fill="none" stroke-linejoin="round" stroke-linecap="round"/>
<path d="M281.00,340.00 C281.52,342.03 284.10,349.37 284.10,352.20 C284.10,355.03 283.02,355.28 281.00,357.00 C278.98,358.72 275.50,360.75 272.00,362.50 C268.50,364.25 265.33,365.47 260.00,367.50 C254.67,369.53 245.33,373.55 240.00,374.70 C234.67,375.85 231.43,374.88 228.00,374.40 C224.57,373.92 221.60,373.45 219.40,371.80 C217.20,370.15 216.10,368.68 214.80,364.50 C213.50,360.32 213.88,355.83 211.60,346.75 C209.32,337.67 203.10,317.33 201.10,310.00 C199.10,302.67 199.85,304.71 199.60,302.75 C199.35,300.79 199.03,299.75 199.60,298.25 C200.17,296.75 201.06,294.94 203.00,293.75 C204.94,292.56 207.38,291.79 211.25,291.10 C215.12,290.41 220.62,289.91 226.25,289.60 C231.88,289.29 240.21,289.17 245.00,289.25 C249.79,289.33 251.67,289.48 255.00,290.10 C258.33,290.73 262.80,291.81 265.00,293.00 C267.20,294.19 267.24,295.29 268.20,297.25 C269.16,299.21 270.07,302.93 270.75,304.75 C271.43,306.57 271.79,307.52 272.30,308.20 C272.81,308.88 273.31,309.00 273.80,308.80 C274.29,308.60 275.01,307.30 275.25,307.00" stroke="#222" stroke-width="1.0" fill="none" stroke-linejoin="round" stroke-linecap="round"/>
<path d="M201.80,299.50 L208.60,296.80 L230.50,371.20 L223.50,372.20 Z" fill="url(#dots)"/>
<path d="M233.50,293.30 C234.83,281.08 256.50,291.58 262.00,292.20 C267.50,292.82 265.58,295.03 266.50,297.00 C267.42,298.97 268.08,302.00 267.50,304.00 C266.92,306.00 264.92,307.67 263.00,309.00 C261.08,310.33 257.83,310.75 256.00,312.00 C254.17,313.25 252.72,314.50 252.00,316.50 C251.28,318.50 251.28,321.08 251.70,324.00 C252.12,326.92 253.28,331.42 254.50,334.00 C255.72,336.58 256.75,338.45 259.00,339.50 C261.25,340.55 264.67,340.47 268.00,340.30 C271.33,340.13 276.75,337.88 279.00,338.50 C281.25,339.12 281.17,341.92 281.50,344.00 C281.83,346.08 282.08,348.83 281.00,351.00 C279.92,353.17 278.00,355.08 275.00,357.00 C272.00,358.92 266.50,361.08 263.00,362.50 C259.50,363.92 258.92,377.03 254.00,365.50 C249.08,353.97 232.17,305.52 233.50,293.30 Z" fill="url(#dots)"/>
<path d="M210.90,294.90 L230.75,291.90 L252.20,367.40 L232.10,370.70 Z" stroke="#222" stroke-width="1.0" fill="#fff" stroke-linejoin="round" stroke-linecap="round"/>
<text x="0" y="0" transform="translate(215.8,297.6) rotate(74.6)" font-size="16.5" fill="#fff" stroke="#9a9a9a" stroke-width="0.7" textLength="66" lengthAdjust="spacing">GERDA</text>
<path d="M255.60,316.40 C257.27,316.01 272.48,314.08 274.20,314.00 C275.92,313.92 275.64,313.92 276.20,315.40 C276.76,316.88 280.61,330.28 280.90,331.80 C281.19,333.32 281.38,333.18 279.70,333.60 C278.02,334.02 262.53,336.63 260.80,336.80 C259.07,336.97 259.55,337.11 259.00,335.60 C258.45,334.09 254.48,320.30 254.20,318.70 C253.92,317.10 253.93,316.79 255.60,316.40 Z" stroke="#222" stroke-width="1.1" fill="#fff" stroke-linejoin="round" stroke-linecap="round"/>
<path d="M257.00,319.20 L274.00,316.80 L278.60,331.50" stroke="#777" stroke-width="0.6" fill="none" stroke-linejoin="round" stroke-linecap="round"/>
</svg></body></html>
